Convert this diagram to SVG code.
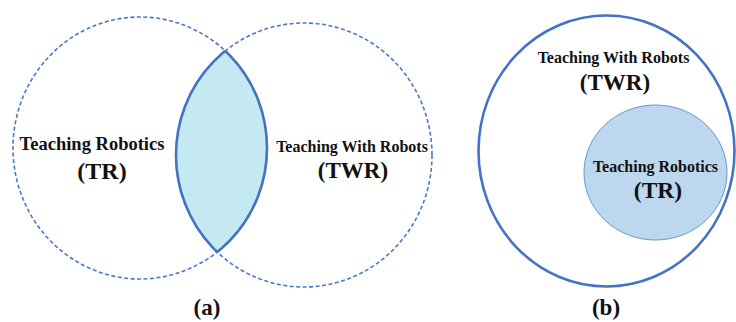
<svg xmlns="http://www.w3.org/2000/svg" width="736" height="322" viewBox="0 0 736 322">
<style>
.t{font-family:'Liberation Serif','Times New Roman','DejaVu Serif',serif;font-weight:bold;fill:#111;text-anchor:middle}
.dash{fill:none;stroke:#4A78C8;stroke-width:1.6;stroke-dasharray:4 2.5}
.lens{fill:none;stroke:#4472C4;stroke-width:2.6}
</style>
<defs>
<clipPath id="clipL"><ellipse cx="140" cy="148" rx="127" ry="131"/></clipPath>
<clipPath id="clipR"><ellipse cx="304" cy="155" rx="128" ry="132"/></clipPath>
</defs>
<rect width="736" height="322" fill="#fff"/>
<g id="panel-a">
  <g id="lens">
    <ellipse cx="304" cy="155" rx="128" ry="132" fill="#C5E9F1" clip-path="url(#clipL)"/>
  </g>
  <g id="circle-TR">
    <ellipse class="dash" cx="140" cy="148" rx="127" ry="131"/>
    <ellipse class="lens" cx="140" cy="148" rx="127" ry="131" clip-path="url(#clipR)"/>
    <text class="t" x="92" y="150" font-size="18.5">Teaching Robotics</text>
    <text class="t" x="102" y="179" font-size="24">(TR)</text>
  </g>
  <g id="circle-TWR">
    <ellipse class="dash" cx="304" cy="155" rx="128" ry="132"/>
    <ellipse class="lens" cx="304" cy="155" rx="128" ry="132" clip-path="url(#clipL)"/>
    <text class="t" x="352" y="152" font-size="16">Teaching With Robots</text>
    <text class="t" x="353" y="178" font-size="23">(TWR)</text>
  </g>
  <text class="t" x="207" y="315" font-size="23">(a)</text>
</g>
<g id="panel-b">
  <g id="outer-TWR">
    <ellipse cx="606.5" cy="151" rx="128" ry="135.5" fill="none" stroke="#4472C4" stroke-width="2.6"/>
    <text class="t" x="613.5" y="63" font-size="16">Teaching With Robots</text>
    <text class="t" x="615" y="90" font-size="23">(TWR)</text>
  </g>
  <g id="inner-TR">
    <ellipse cx="655.5" cy="172.5" rx="71.5" ry="67.5" fill="#BDD7EE" stroke="#5B9BD5" stroke-width="1"/>
    <text class="t" x="655.5" y="172" font-size="16">Teaching Robotics</text>
    <text class="t" x="658" y="198" font-size="23.5">(TR)</text>
  </g>
  <text class="t" x="606" y="315" font-size="23">(b)</text>
</g>
</svg>
